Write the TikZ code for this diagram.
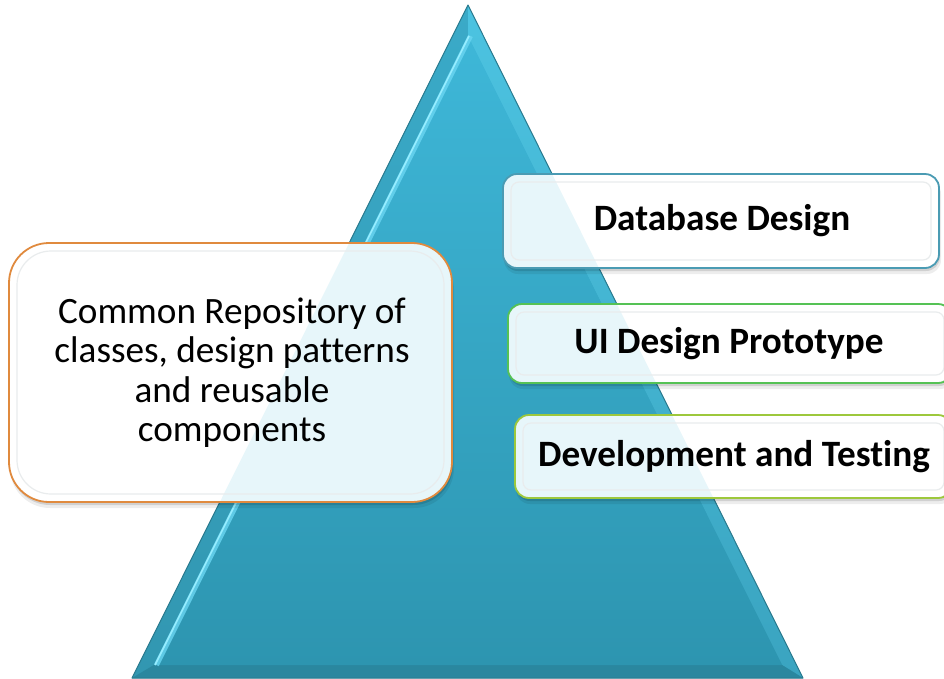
\documentclass[tikz,border=0pt]{standalone}
\usepackage{fontspec}
\setmainfont{Carlito}[Ligatures=NoCommon]
\definecolor{triTop}{HTML}{41B9D9}
\definecolor{triBot}{HTML}{2C93AE}
\definecolor{faceTop}{HTML}{3EB7D8}
\definecolor{faceBot}{HTML}{2D95B0}
\definecolor{bevLTop}{HTML}{3AAAC8}
\definecolor{bevLBot}{HTML}{3297B1}
\definecolor{bevRTop}{HTML}{4CC3E1}
\definecolor{bevRBot}{HTML}{3AA4C0}
\definecolor{bevB}{HTML}{2A879F}
\definecolor{hilite}{HTML}{6AD6F2}
\definecolor{hiliteB}{HTML}{96EDFF}
\definecolor{triEdge}{HTML}{2A7A8E}
\definecolor{orangeB}{HTML}{E08A3E}
\definecolor{tealB}{HTML}{4A9BB3}
\definecolor{greenB}{HTML}{55C255}
\definecolor{limeB}{HTML}{9DC83C}
\definecolor{innerB}{HTML}{E9ECED}
\tikzset{
  repotext/.style={align=center, inner sep=0pt, text=black,
    font=\fontsize{37.2pt}{39.5pt}\selectfont},
  sidetext/.style={align=center, inner sep=0pt, text=black,
    font=\fontsize{37.2pt}{40pt}\selectfont\bfseries},
  boxedge/.style={line width=1.8pt}
}
% #1 x1, #2 y1, #3 x2, #4 y2, #5 radius, #6 border colour
\newcommand{\glassbox}[6]{%
  \fill[black, opacity=0.07, rounded corners=#5] (#1+1,#2+6) rectangle (#3+2,#4+6);
  \fill[black, opacity=0.12, rounded corners=#5] (#1+1,#2+3) rectangle (#3+1,#4+3);
  \fill[white, rounded corners=#5] (#1,#2) rectangle (#3,#4);
  \begin{scope}
    \clip[rounded corners=#5] (#1,#2) rectangle (#3,#4);
    \fill[faceTop, opacity=0.12] (A) -- (BR) -- (BL) -- cycle;
  \end{scope}
  \draw[innerB, line width=1.2pt, rounded corners=#5-6] (#1+8,#2+8) rectangle (#3-8,#4-8);
  \draw[#6, boxedge, rounded corners=#5] (#1,#2) rectangle (#3,#4);
}
\begin{document}
\begin{tikzpicture}[x=1pt,y=-1pt]
\useasboundingbox (0,0) rectangle (944,678);
\clip (0,0) rectangle (944,678);
% pyramid
\coordinate (A) at (468,5);
\coordinate (BL) at (132,678);
\coordinate (BR) at (803,678);
\coordinate (iA) at (468,36);
\coordinate (iBL) at (154,665);
\coordinate (iBR) at (782,665);
\shade[top color=triTop, bottom color=triBot] (A) -- (BR) -- (BL) -- cycle;
\shade[top color=bevLTop, bottom color=bevLBot] (A) -- (iA) -- (iBL) -- (BL) -- cycle;
\shade[top color=bevRTop, bottom color=bevRBot] (A) -- (BR) -- (iBR) -- (iA) -- cycle;
\fill[bevB] (BL) -- (iBL) -- (iBR) -- (BR) -- cycle;
\shade[top color=faceTop, bottom color=faceBot] (iA) -- (iBR) -- (iBL) -- cycle;
\draw[hilite, line width=5pt, opacity=0.8] ([xshift=2.5pt]iA) -- ([xshift=2.5pt]iBL);
\draw[hiliteB, line width=1.6pt] ([xshift=1pt]iA) -- ([xshift=1pt]iBL);
\draw[triEdge, line width=1pt, line join=round] (A) -- (BR) -- (BL) -- cycle;
% boxes
\glassbox{9}{243}{452}{502}{40}{orangeB}
\glassbox{503}{174}{939}{268}{14}{tealB}
\glassbox{508}{304}{952}{383}{14}{greenB}
\glassbox{515}{415}{952}{498}{14}{limeB}
\node[repotext] (repo) at (232,372.5)
  {Common Repository of\\classes, design patterns\\and reusable\\components};
\node[sidetext] (db) at (722,221) {Database Design};
\node[sidetext] (ui) at (729,343.5) {UI Design Prototype};
\node[sidetext] (dev) at (734,456.5) {Development and Testing};
\end{tikzpicture}
\end{document}
